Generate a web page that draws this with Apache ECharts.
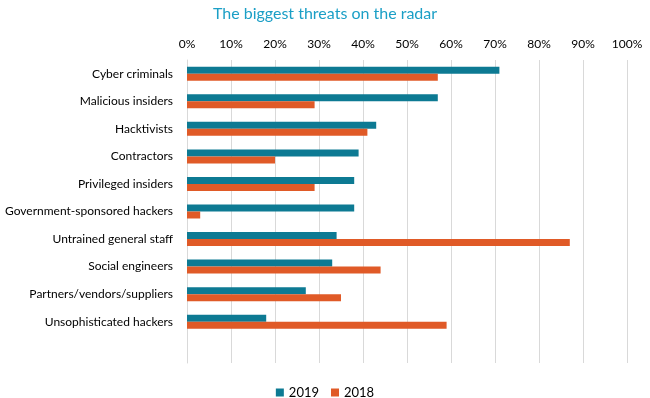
<!DOCTYPE html>
<html>
<head>
<meta charset="utf-8">
<script src="https://cdn.jsdelivr.net/npm/echarts@6/dist/echarts.min.js"></script>
<style>
  html, body { margin: 0; padding: 0; background: #fff; }
  #chart { width: 650px; height: 398px; }
</style>
</head>
<body>
<div id="chart"></div>
<script>
var categories = [
    'Cyber criminals',
    'Malicious insiders',
    'Hacktivists',
    'Contractors',
    'Privileged insiders',
    'Government-sponsored hackers',
    'Untrained general staff',
    'Social engineers',
    'Partners/vendors/suppliers',
    'Unsophisticated hackers'
];
var values2019 = [71, 57, 43, 39, 38, 38, 34, 33, 27, 18];
var values2018 = [57, 29, 41, 20, 29, 3, 87, 44, 35, 59];
var percentTicks = [0, 10, 20, 30, 40, 50, 60, 70, 80, 90, 100];

var font = 'Lato, "Open Sans", sans-serif';
var chart = echarts.init(document.getElementById('chart'));

var option = {
    animation: false,
    title: {
        text: 'The biggest threats on the radar',
        left: 'center',
        top: 1,
        textStyle: { color: '#1b9fc6', fontSize: 16, fontWeight: 'normal', fontFamily: font }
    },
    legend: {
        top: 381,
        left: 'center',
        itemWidth: 8,
        itemHeight: 8,
        itemGap: 12,
        icon: 'rect',
        textStyle: { color: '#000', fontSize: 13, fontFamily: font },
        data: ['2019', '2018']
    },
    grid: { left: 187, right: 23, top: 60, bottom: 35, containLabel: false },
    xAxis: {
        type: 'value',
        position: 'top',
        min: percentTicks[0],
        max: percentTicks[percentTicks.length - 1],
        interval: 10,
        axisLine: { show: false },
        axisTick: { show: false },
        axisLabel: {
            formatter: '{value}%',
            color: '#000',
            fontSize: 12,
            fontFamily: font,
            margin: 10
        },
        splitLine: { lineStyle: { color: '#d9d9d9', width: 1 } }
    },
    yAxis: {
        type: 'category',
        inverse: true,
        data: categories,
        max: categories.length,
        axisLine: { show: true, lineStyle: { color: '#d9d9d9' } },
        axisTick: { show: false },
        axisLabel: { color: '#000', fontSize: 12, fontFamily: font, margin: 14 }
    },
    series: [
        {
            name: '2019',
            type: 'bar',
            data: values2019,
            barWidth: 7,
            barGap: '0%',
            itemStyle: { color: '#0d7a93' }
        },
        {
            name: '2018',
            type: 'bar',
            data: values2018,
            barWidth: 7,
            itemStyle: { color: '#e05a27' }
        }
    ]
};
chart.setOption(option);
</script>
</body>
</html>
